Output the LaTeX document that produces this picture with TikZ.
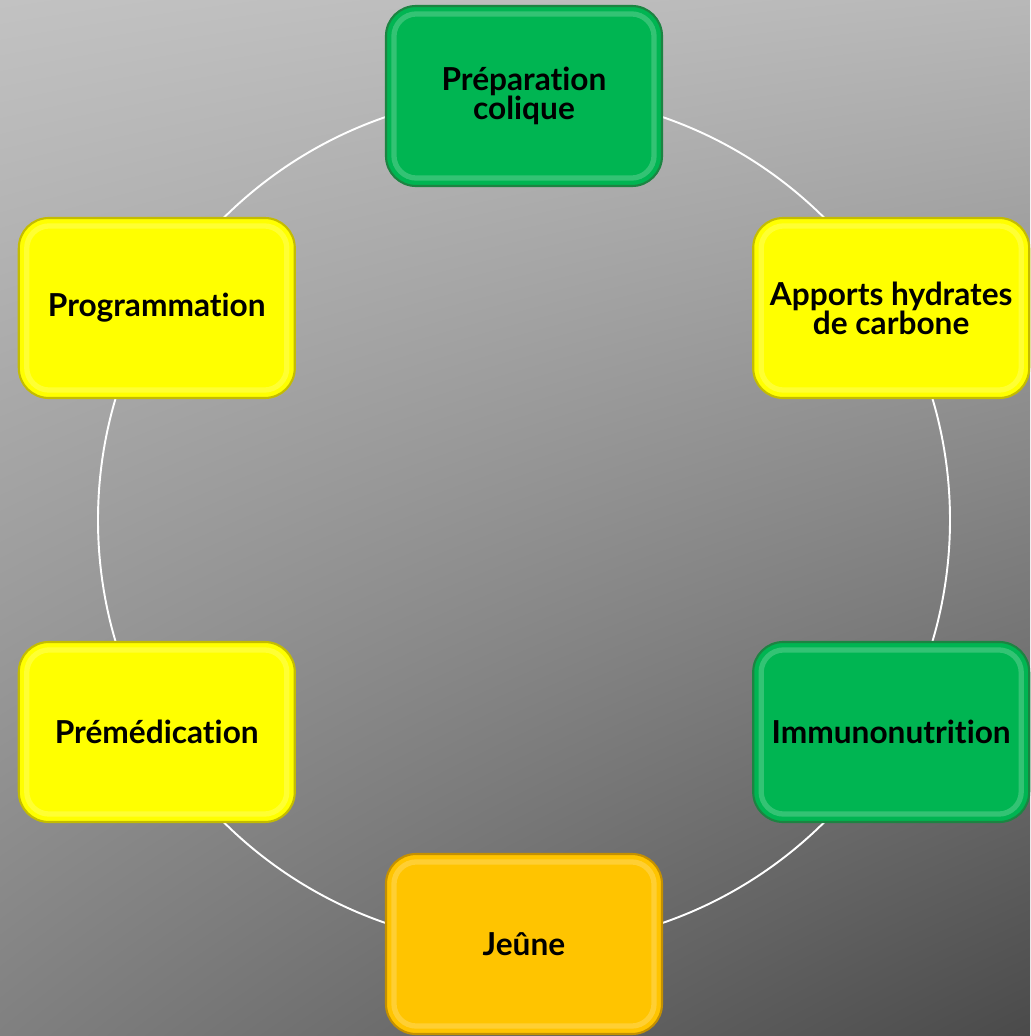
\documentclass[tikz,border=0pt]{standalone}
\usepackage{fontspec}
\setmainfont[Ligatures=NoCommon]{Lato}
\usetikzlibrary{shadings}
\definecolor{vert}{HTML}{00B552}
\definecolor{vertfonce}{HTML}{1C8442}
\definecolor{jaune}{HTML}{FFFF00}
\definecolor{jaunefonce}{HTML}{C4BC00}
\definecolor{orange}{HTML}{FFC400}
\definecolor{orangefonce}{HTML}{C49000}
\definecolor{fondhg}{HTML}{C2C2C2}
\definecolor{fondhd}{HTML}{B8B8B8}
\definecolor{fondbg}{HTML}{808080}
\definecolor{fondbd}{HTML}{4A4A4A}
\begin{document}
\begin{tikzpicture}[
  etape/.style={rounded corners=0.6cm, minimum width=5.52cm, minimum height=3.6cm,
    align=center, inner sep=2pt, line width=1.2pt,
    font=\bfseries\fontsize{18}{16.5}\selectfont},
  etapevert/.style={etape, fill=vert, draw=vertfonce},
  etapejaune/.style={etape, fill=jaune, draw=jaunefonce},
  etapeorange/.style={etape, fill=orange, draw=orangefonce}
]
\useasboundingbox (-10.48,-10.32) rectangle (10.12,10.4);
\shade[upper left=fondhg, upper right=fondhd, lower left=fondbg, lower right=fondbd] (-10.48,-10.32) rectangle (10.12,10.4);
% cercle
\coordinate (centre) at (0,0);
\draw[white, line width=1.1pt] (centre) circle (8.52);
% etapes
\node[etapevert] (colique) at (90:8.48) {Préparation\\colique};
\node[etapejaune] (glucides) at (30:8.48) {Apports hydrates\\de carbone};
\node[etapevert] (immuno) at (-30:8.48) {Immunonutrition};
\node[etapeorange] (jeune) at (-90:8.48) {Jeûne};
\node[etapejaune] (premed) at (210:8.48) {Prémédication};
\node[etapejaune] (progr) at (150:8.48) {Programmation};
% reflets
\foreach \n in {colique,glucides,immuno,jeune,premed,progr}
  \draw[white, opacity=.2, line width=3pt, rounded corners=0.45cm]
    ([shift={(.18,-.18)}]\n.north west) rectangle ([shift={(-.18,.18)}]\n.south east);
\end{tikzpicture}
\end{document}
